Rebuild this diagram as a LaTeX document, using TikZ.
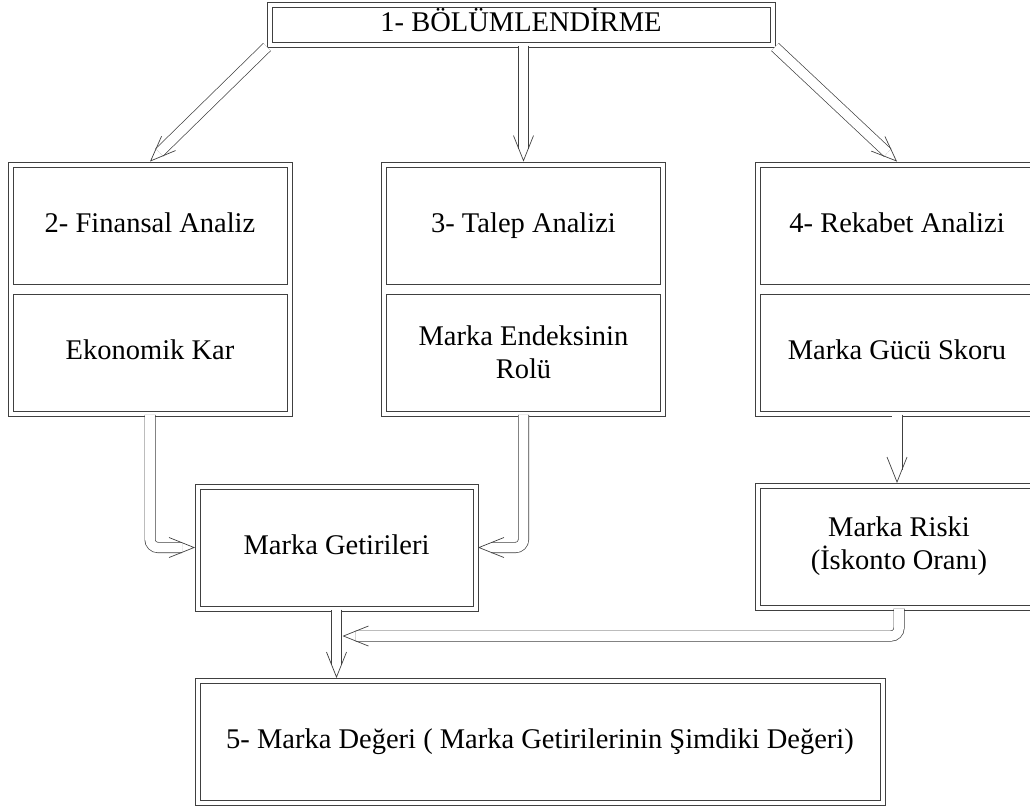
\documentclass[tikz,border=0pt]{standalone}
\usepackage{fontspec}
\setmainfont{Liberation Serif}
\usepackage{xcolor}
\usepackage{tikz}
\usetikzlibrary{arrows.meta, positioning, fit, calc}
\definecolor{lineGray}{RGB}{64, 64, 64}

\begin{document}
\begin{tikzpicture}[x=1pt, y=-1pt,
    font=\fontsize{28.5}{33}\selectfont,
    panel/.style={draw=lineGray, line width=0.9pt, minimum width=274pt, minimum height=117pt, inner sep=0pt, align=center},
    oneline/.style={text height=20pt, text depth=7pt},
    outerframe/.style={draw=lineGray, line width=0.9pt, inner sep=4.55pt},
    dbox/.style={draw=lineGray, line width=0.9pt, outer sep=0pt, inner sep=0pt, align=center},
    innerframe/.style={draw=lineGray, line width=0.9pt},
    flowline/.style={draw=lineGray, line width=0.7pt, double=white, double distance=9.6pt, shorten >=13pt},
    arrowhead/.style={draw=white, line width=0.2pt, -{Straight Barb[color=lineGray, length=25pt, width=20pt, line width=0.7pt]}}]
\clip (0,0) rectangle (1030,807);

% Segmentation
\node[dbox, oneline, minimum width=508pt, minimum height=45pt] (title) at (521,24.5) {1- BÖLÜMLENDİRME};

% Three analyses
\node[panel, oneline] (finTop) at (150,225.5) {2- Finansal Analiz};
\node[panel, oneline] (finBot) at (150,352.5) {Ekonomik Kar};
\node[outerframe, fit=(finTop)(finBot)] (fin) {};

\node[panel, oneline] (demTop) at (523.5,225.5) {3- Talep Analizi};
\node[panel] (demBot) at (523.5,352.5) {Marka Endeksinin\\Rolü};
\node[outerframe, fit=(demTop)(demBot)] (dem) {};

\node[panel, oneline] (compTop) at (897,225.5) {4- Rekabet Analizi};
\node[panel, oneline] (compBot) at (897,352.5) {Marka Gücü Skoru};
\node[outerframe, fit=(compTop)(compBot)] (comp) {};

% Returns, risk and value
\node[dbox, oneline, minimum width=283pt, minimum height=127pt] (returns) at (336.5,547.5) {Marka Getirileri};
\node[dbox, minimum width=288pt, minimum height=127pt] (risk) at (899,546.5) {Marka Riski\\(İskonto Oranı)};
\node[dbox, oneline, minimum width=690pt, minimum height=127pt] (value) at (540,741.5) {5- Marka Değeri ( Marka Getirilerinin Şimdiki Değeri)};
\coordinate (merge) at (342.5,636);

% inner lines of the double frames
\foreach \n in {title,returns,risk,value}
    \draw[innerframe] ($(\n.north west)+(5pt,-5pt)$) rectangle ($(\n.south east)+(-5pt,5pt)$);

% Double connectors
\draw[flowline] (title.south west) -- (fin.north);
\draw[flowline] ($(title.south -| dem.north)+(0,1.5pt)$) -- (dem.north);
\draw[flowline] (title.south east) -- (comp.north);
\draw[flowline, rounded corners=8pt] ($(fin.south)+(0,1.5pt)$) |- (returns.west);
\draw[flowline, rounded corners=8pt] ($(dem.south)+(0,1.5pt)$) |- (returns.east);
\draw[flowline] ($(comp.south)+(0,1.5pt)$) -- (comp.south |- risk.north);
\draw[flowline] ($(returns.south)+(0,1.5pt)$) -- (returns.south |- value.north);
\draw[flowline, rounded corners=8pt] ($(risk.south)+(0,1.5pt)$) |- (merge);

% Open heads
\draw[arrowhead] (title.south west) -- (fin.north);
\draw[arrowhead] ($(title.south -| dem.north)+(0,1.5pt)$) -- (dem.north);
\draw[arrowhead] (title.south east) -- (comp.north);
\draw[arrowhead, rounded corners=8pt] ($(fin.south)+(0,1.5pt)$) |- (returns.west);
\draw[arrowhead, rounded corners=8pt] ($(dem.south)+(0,1.5pt)$) |- (returns.east);
\draw[arrowhead] ($(comp.south)+(0,1.5pt)$) -- (comp.south |- risk.north);
\draw[arrowhead] ($(returns.south)+(0,1.5pt)$) -- (returns.south |- value.north);
\draw[arrowhead, rounded corners=8pt] ($(risk.south)+(0,1.5pt)$) |- (merge);
\end{tikzpicture}
\end{document}
